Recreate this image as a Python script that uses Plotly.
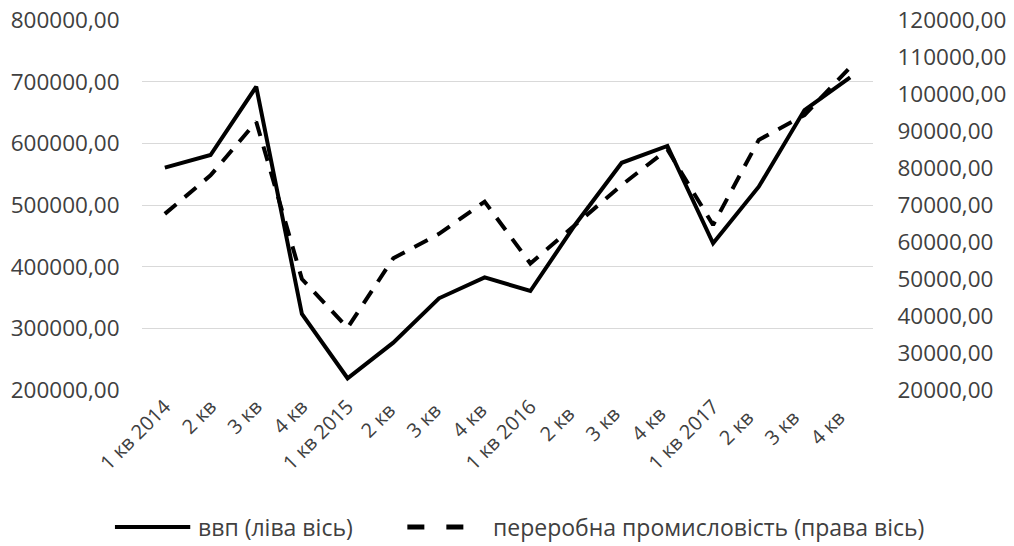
import plotly.graph_objects as go

categories = ["1 кв 2014", "2 кв", "3 кв", "4 кв",
              "1 кв 2015", "2 кв ", "3 кв ", "4 кв ",
              "1 кв 2016", "2 кв  ", "3 кв  ", "4 кв  ",
              "1 кв 2017", "2 кв   ", "3 кв   ", "4 кв   "]
gdp = [560500, 581000, 691800, 323200,
       219000, 276700, 348700, 382700,
       360500, 470000, 568500, 595700,
       437900, 529700, 654000, 707000]
manufacturing = [67600, 78000, 92500, 50000,
                 36800, 55600, 62200, 70900,
                 54200, 64700, 75400, 85000,
                 64600, 87600, 94300, 107200]
left_ticks = [200000, 300000, 400000, 500000, 600000, 700000, 800000]
right_ticks = [20000, 30000, 40000, 50000, 60000, 70000, 80000, 90000, 100000, 110000, 120000]
series_names = ["ввп (ліва вісь)", "переробна промисловість (права вісь)"]

FONT = "Open Sans"
TXT = "#404040"

fig = go.Figure()
fig.add_trace(go.Scatter(x=categories, y=gdp, mode="lines", name=series_names[0],
                         line=dict(color="black", width=4), yaxis="y", showlegend=False))
fig.add_trace(go.Scatter(x=categories, y=manufacturing, mode="lines", name=series_names[1],
                         line=dict(color="black", width=4, dash="15px,11px"), yaxis="y2",
                         showlegend=False))

# custom legend (below the plot)
LY = -0.37
fig.add_shape(type="line", xref="paper", yref="paper", x0=-0.037, x1=0.066, y0=LY, y1=LY,
              line=dict(color="black", width=4))
fig.add_shape(type="line", xref="paper", yref="paper", x0=0.363, x1=0.447, y0=LY, y1=LY,
              line=dict(color="black", width=5, dash="17px,22px"))
fig.add_annotation(xref="paper", yref="paper", x=0.074, y=LY, text=series_names[0],
                   showarrow=False, xanchor="left", yanchor="middle",
                   font=dict(size=23, color=TXT, family=FONT))
fig.add_annotation(xref="paper", yref="paper", x=0.477, y=LY, text=series_names[1],
                   showarrow=False, xanchor="left", yanchor="middle",
                   font=dict(size=23, color=TXT, family=FONT))

fig.update_layout(
    width=1014, height=546,
    margin=dict(l=142, r=141, t=20, b=156),
    paper_bgcolor="white", plot_bgcolor="white",
    separators=", ",
    font=dict(family=FONT, size=22, color=TXT),
    xaxis=dict(type="category", range=[-0.5, 15.5], tickangle=-45, showgrid=False,
               zeroline=False, showline=False, ticks="", automargin=False,
               tickfont=dict(size=20, color=TXT)),
    yaxis=dict(range=[200000, 800000], tickvals=left_ticks, tickformat=".2f",
               showgrid=True, gridcolor="#d9d9d9", gridwidth=1, zeroline=False,
               showline=False, ticks="outside", ticklen=17, tickcolor="rgba(0,0,0,0)",
               automargin=False, ticklabeloverflow="allow",
               tickfont=dict(size=22.5, color=TXT)),
    yaxis2=dict(range=[20000, 120000], tickvals=right_ticks, tickformat=".2f",
                overlaying="y", side="right", showgrid=False, zeroline=False,
                showline=False, ticks="outside", ticklen=19, tickcolor="rgba(0,0,0,0)",
                automargin=False, ticklabeloverflow="allow",
                tickfont=dict(size=22.5, color=TXT)),
    showlegend=False,
)

fig.write_html("out.html", config={"displayModeBar": False},
               post_script="document.body.style.margin='0';document.body.style.overflow='hidden';")
